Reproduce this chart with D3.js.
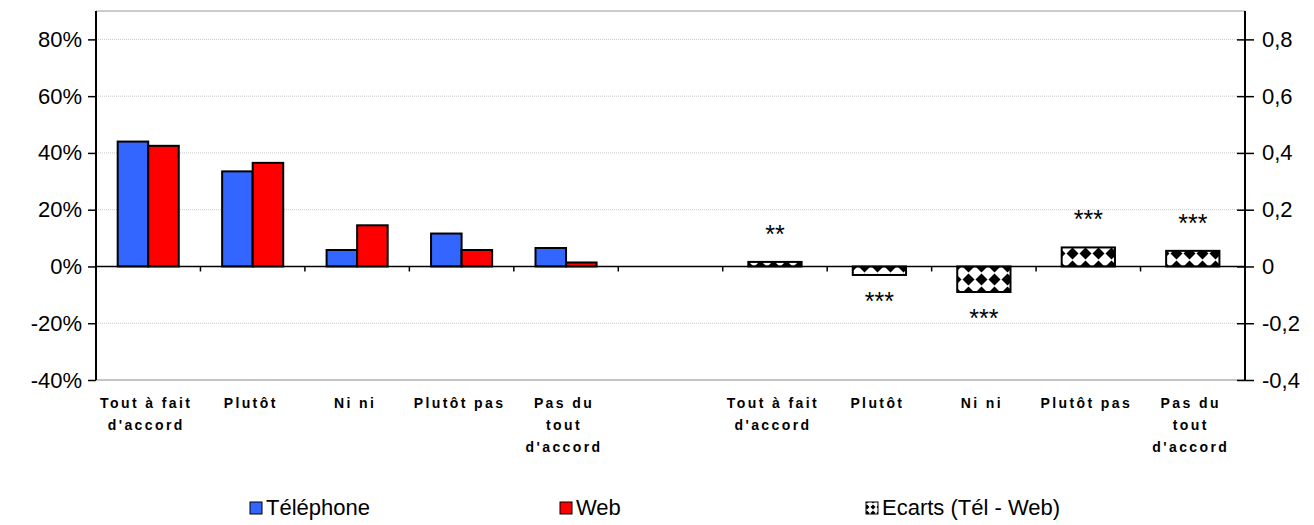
<!DOCTYPE html>
<html><head><meta charset="utf-8">
<script src="https://cdn.jsdelivr.net/npm/d3@7"></script>
<style>html,body{margin:0;padding:0;background:#fff;} svg{display:block;font-family:"Liberation Sans",Arial,sans-serif;}</style>
</head><body>
<script>
const categories = ["Tout à fait d'accord","Plutôt","Ni ni","Plutôt pas","Pas du tout d'accord","","Tout à fait d'accord","Plutôt","Ni ni","Plutôt pas","Pas du tout d'accord"];
const categoryLines = [["Tout à fait","d'accord"],["Plutôt"],["Ni ni"],["Plutôt pas"],["Pas du","tout","d'accord"],[],["Tout à fait","d'accord"],["Plutôt"],["Ni ni"],["Plutôt pas"],["Pas du","tout","d'accord"]];
const telephone = [0.44, 0.335, 0.058, 0.116, 0.065];
const web = [0.425, 0.365, 0.145, 0.058, 0.014];
const ecartCats = [6,7,8,9,10];
const ecarts = [0.016, -0.03, -0.09, 0.067, 0.055];
const stars = ["**","***","***","***","***"];
const leftTicks = [-0.4,-0.2,0,0.2,0.4,0.6,0.8];
const rightTicks = [-0.4,-0.2,0,0.2,0.4,0.6,0.8];
const legendLabels = ["Téléphone","Web","Ecarts (Tél - Web)"];

const W=1314,H=525;
const svg=d3.select("body").append("svg").attr("width",W).attr("height",H);
const defs=svg.append("defs");
const pat=defs.append("pattern").attr("id","diam").attr("patternUnits","userSpaceOnUse")
  .attr("width",13).attr("height",13).attr("x",0).attr("y",0);
pat.append("rect").attr("width",13).attr("height",13).attr("fill","#fff");
pat.append("path").attr("d","M6.5,0.5 L12.5,6.5 L6.5,12.5 L0.5,6.5Z").attr("fill","#000");
const patL=defs.append("pattern").attr("id","diamL").attr("patternUnits","userSpaceOnUse")
  .attr("width",6).attr("height",6).attr("x",0).attr("y",0);
patL.append("rect").attr("width",6).attr("height",6).attr("fill","#fff");
patL.append("path").attr("d","M3,0.5 L5.5,3 L3,5.5 L0.5,3Z").attr("fill","#000");

const L=96,R=1245,T=11,B=380;
const x=d3.scaleBand().domain(d3.range(categories.length)).range([L,R]).paddingInner(0).paddingOuter(0);
const y=d3.scaleLinear().domain([-0.4,0.9]).range([B,T]);
const y2=d3.scaleLinear().domain([-0.4,0.9]).range([B,T]);
const xs=d3.scaleBand().domain(["t","w"]).range([0,x.bandwidth()]).paddingInner(0).paddingOuter(0.71);
const hy=s=>s.replace("\u2212","-");

// gridlines
svg.append("g").selectAll("line").data(leftTicks.filter(d=>d!==0&&d!==-0.4)).join("line")
  .attr("x1",L).attr("x2",R).attr("y1",d=>y(d)).attr("y2",d=>y(d))
  .attr("stroke","#c8c8c8").attr("stroke-width",1).attr("stroke-dasharray","1,1");
svg.append("line").attr("x1",L).attr("x2",R).attr("y1",T).attr("y2",T).attr("stroke","#999");
svg.append("line").attr("x1",L).attr("x2",R).attr("y1",B).attr("y2",B).attr("stroke","#888");

// bars
const g=svg.append("g");
g.selectAll(".t").data(telephone).join("rect")
  .attr("x",(d,i)=>x(i)+xs("t")).attr("width",xs.bandwidth())
  .attr("y",d=>y(Math.max(d,0))).attr("height",d=>Math.abs(y(d)-y(0)))
  .attr("fill","#3366ff").attr("stroke","#000").attr("stroke-width",2);
g.selectAll(".w").data(web).join("rect")
  .attr("x",(d,i)=>x(i)+xs("w")).attr("width",xs.bandwidth())
  .attr("y",d=>y(Math.max(d,0))).attr("height",d=>Math.abs(y(d)-y(0)))
  .attr("fill","#ff0000").attr("stroke","#000").attr("stroke-width",2);
const ew=x.bandwidth()*0.51;
g.selectAll(".e").data(ecarts).join("rect")
  .attr("x",(d,i)=>x(ecartCats[i])+(x.bandwidth()-ew)/2).attr("width",ew)
  .attr("y",d=>y2(Math.max(d,0))).attr("height",d=>Math.abs(y2(d)-y2(0)))
  .attr("fill","url(#diam)").attr("stroke","#000").attr("stroke-width",2);
g.selectAll(".s").data(ecarts).join("text")
  .attr("x",(d,i)=>x(ecartCats[i])+x.bandwidth()/2)
  .attr("y",d=>d>=0? y2(d)-19 : y2(d)+35)
  .attr("text-anchor","middle").attr("font-size",25).attr("fill","#000")
  .text((d,i)=>stars[i]);

// zero line + ticks
svg.append("line").attr("x1",L).attr("x2",R).attr("y1",y(0)).attr("y2",y(0)).attr("stroke","#000").attr("stroke-width",1.5);
svg.append("g").selectAll("line").data(d3.range(1,categories.length)).join("line")
  .attr("x1",d=>x(d)).attr("x2",d=>x(d)).attr("y1",y(0)).attr("y2",y(0)+5).attr("stroke","#000").attr("stroke-width",1.5);

// left axis
const la=svg.append("g").attr("transform",`translate(${L},0)`)
  .call(d3.axisLeft(y).tickValues(leftTicks).tickFormat(d=>hy(d3.format(".0%")(d))).tickSize(8).tickPadding(6));
la.select(".domain").attr("stroke","#000").attr("stroke-width",2).attr("d",`M0,${T}V${B}`);
la.selectAll(".tick line").attr("stroke","#000").attr("stroke-width",1.5);
la.selectAll("text").attr("font-size",22).attr("fill","#000").attr("font-family","Liberation Sans, Arial, sans-serif");

// right axis
const ra=svg.append("g").attr("transform",`translate(${R},0)`)
  .call(d3.axisRight(y2).tickValues(rightTicks).tickFormat(d=>d===0?"0":hy(d3.format(".1f")(d)).replace(".",",")).tickSize(9).tickPadding(8));
ra.select(".domain").attr("stroke","#000").attr("stroke-width",2).attr("d",`M0,${T}V${B}`);
ra.selectAll(".tick line").attr("stroke","#000").attr("stroke-width",1.5).attr("x1",-8);
ra.selectAll("text").attr("font-size",22).attr("fill","#000").attr("font-family","Liberation Sans, Arial, sans-serif");

// category labels
const cl=svg.append("g");
categoryLines.forEach((lines,i)=>{
  const t=cl.append("text").attr("text-anchor","middle").attr("font-size",14).attr("font-weight","bold")
    .attr("letter-spacing","2.4px").attr("fill","#000");
  lines.forEach((s,j)=>t.append("tspan").attr("x",x(i)+x.bandwidth()/2-2).attr("y",408+j*22).text(s));
});

// legend
const leg=[{x:250,fill:"#3366ff"},{x:560,fill:"#ff0000"},{x:866,fill:"url(#diamL)"}];
const lg=svg.append("g");
lg.selectAll("rect").data(legendLabels).join("rect")
  .attr("x",(d,i)=>leg[i].x).attr("y",502).attr("width",12).attr("height",12)
  .attr("fill",(d,i)=>leg[i].fill).attr("stroke","#000").attr("stroke-width",1);
lg.selectAll("text").data(legendLabels).join("text")
  .attr("x",(d,i)=>leg[i].x+16).attr("y",515).attr("font-size",22).attr("fill","#000").text(d=>d);
</script>
</body></html>
